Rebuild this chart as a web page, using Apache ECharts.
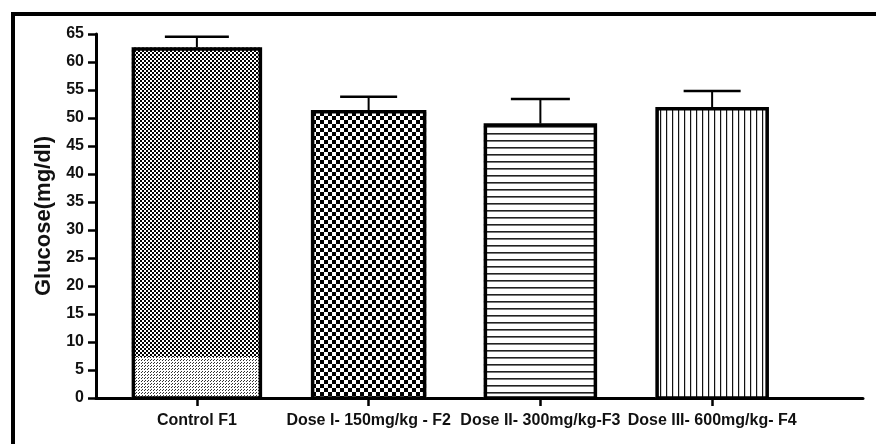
<!DOCTYPE html>
<html><head><meta charset="utf-8">
<script src="https://cdn.jsdelivr.net/npm/echarts@6/dist/echarts.min.js"></script>
<style>html,body{margin:0;padding:0;background:#fff}#c{width:876px;height:444px}</style>
</head><body><div id="c"></div>
<script>
// ---- data ----
const categories = ['Control F1', 'Dose I- 150mg/kg - F2', 'Dose II- 300mg/kg-F3', 'Dose III- 600mg/kg- F4'];
const means = [62.6, 51.4, 49.0, 51.9];
const errorTops = [64.5, 53.8, 53.4, 54.8];
const controlLowerBand = 7.3;
const yMin = 0, yMax = 65, yStep = 5;

// ---- styles ----
const barWidths = [130, 115, 113, 113];
const capWidths = [64, 57, 59, 57];
const FONT = '"Liberation Sans", Arial, sans-serif';

function makePattern(w, h, draw) {
  const c = document.createElement('canvas');
  c.width = w; c.height = h;
  const g = c.getContext('2d');
  g.fillStyle = '#fff'; g.fillRect(0, 0, w, h);
  g.fillStyle = '#000';
  draw(g);
  return { image: c, repeat: 'repeat' };
}
const patFineCheck = makePattern(4, 4, g => { g.fillRect(0, 0, 2, 2); g.fillRect(2, 2, 2, 2); });
const patStipple = makePattern(3, 3, g => { g.fillStyle = '#333'; g.fillRect(0, 0, 1, 1); g.fillRect(1, 2, 1, 1); });
const patCheck = makePattern(8, 8, g => { g.fillRect(0, 0, 4, 4); g.fillRect(4, 4, 4, 4); });
const patHoriz = makePattern(4, 7, g => { g.fillStyle = '#222'; g.fillRect(0, 0, 4, 1.6); });
const patVert = makePattern(6.5, 4, g => { g.fillStyle = '#111'; g.fillRect(0, 0, 1.2, 4); });
const patterns = [patFineCheck, patCheck, patHoriz, patVert];

const chart = echarts.init(document.getElementById('c'), null, { renderer: 'canvas' });

const option = {
  backgroundColor: '#fff',
  animation: false,
  grid: [
    { left: 111, right: 78, top: 34, bottom: 46 },
    { left: 96, right: 13, top: 34, bottom: 46 }
  ],
  xAxis: [
    {
      type: 'category', gridIndex: 0, data: categories,
      axisLine: { show: false },
      axisTick: { show: true, alignWithLabel: true, length: 8, lineStyle: { color: '#000', width: 2.5 } },
      axisLabel: { color: '#111', fontFamily: FONT, fontWeight: 'bold', fontSize: 16, margin: 15, interval: 0 },
      splitLine: { show: false }
    },
    {
      type: 'value', gridIndex: 1, min: 0, max: 1,
      axisLine: { show: true, lineStyle: { color: '#000', width: 3 } },
      axisTick: { show: false }, axisLabel: { show: false }, splitLine: { show: false }
    }
  ],
  yAxis: [
    { type: 'value', gridIndex: 0, min: yMin, max: yMax, interval: yStep, show: false },
    {
      type: 'value', gridIndex: 1, min: yMin, max: yMax, interval: yStep,
      name: 'Glucose(mg/dl)', nameLocation: 'middle', nameRotate: 90, nameGap: 35,
      nameTextStyle: { color: '#111', fontFamily: FONT, fontWeight: 'bold', fontSize: 22 },
      axisLine: { show: true, lineStyle: { color: '#000', width: 3 } },
      axisTick: { show: true, length: 8, lineStyle: { color: '#000', width: 2.5 } },
      axisLabel: { color: '#111', fontFamily: FONT, fontWeight: 'bold', fontSize: 16, margin: 12 },
      splitLine: { show: false }
    }
  ],
  series: [
    {
      type: 'custom', xAxisIndex: 0, yAxisIndex: 0,
      data: categories.map((c, i) => [i, means[i]]),
      renderItem: function (params, api) {
        const i = api.value(0), v = api.value(1);
        const top = api.coord([i, v]);
        const base = api.coord([i, 0]);
        const bw = barWidths[i];
        const x = top[0] - bw / 2;
        const children = [];
        if (i === 0) {
          const mid = api.coord([i, controlLowerBand]);
          children.push({ type: 'rect', shape: { x: x, y: mid[1], width: bw, height: base[1] - mid[1] }, style: { fill: patStipple } });
          children.push({ type: 'rect', shape: { x: x, y: top[1], width: bw, height: mid[1] - top[1] }, style: { fill: patFineCheck } });
        } else {
          children.push({ type: 'rect', shape: { x: x, y: top[1], width: bw, height: base[1] - top[1] }, style: { fill: patterns[i] } });
        }
        children.push({ type: 'rect', shape: { x: x + 1.5, y: top[1] + 1.5, width: bw - 3, height: base[1] - top[1] - 1.5 }, style: { fill: 'none', stroke: '#000', lineWidth: 3.5 } });
        return { type: 'group', children: children };
      }
    },
    {
      type: 'custom', xAxisIndex: 0, yAxisIndex: 0,
      data: categories.map((c, i) => [i, means[i], errorTops[i]]),
      renderItem: function (params, api) {
        const i = api.value(0);
        const lo = api.coord([i, api.value(1)]);
        const hi = api.coord([i, api.value(2)]);
        const cw = capWidths[i];
        return {
          type: 'group', children: [
            { type: 'line', shape: { x1: lo[0], y1: lo[1], x2: hi[0], y2: hi[1] }, style: { stroke: '#000', lineWidth: 2 } },
            { type: 'line', shape: { x1: hi[0] - cw / 2, y1: hi[1], x2: hi[0] + cw / 2, y2: hi[1] }, style: { stroke: '#000', lineWidth: 2.5 } }
          ]
        };
      }
    }
  ],
  graphic: [
    { type: 'rect', shape: { x: 11, y: 12, width: 4, height: 432 }, style: { fill: '#000' } },
    { type: 'rect', shape: { x: 11, y: 12, width: 865, height: 4 }, style: { fill: '#000' } }
  ]
};
chart.setOption(option);
</script>
</body></html>
